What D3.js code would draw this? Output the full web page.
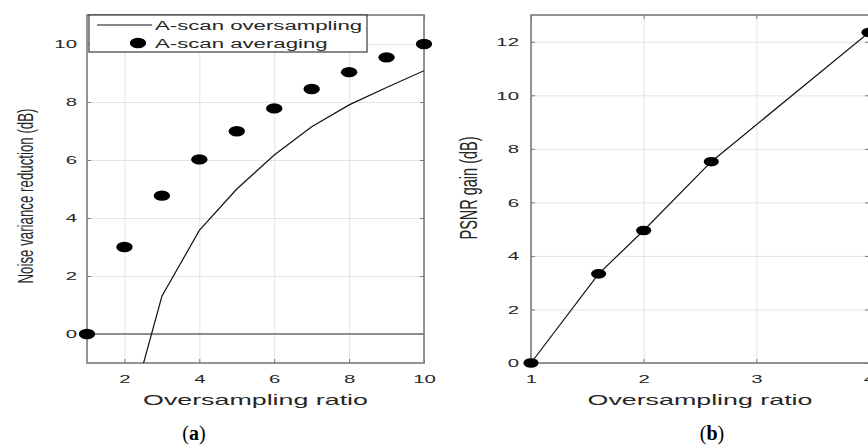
<!DOCTYPE html>
<html>
<head>
<meta charset="utf-8">
<script src="https://cdn.jsdelivr.net/npm/d3@7"></script>
<style>
  html, body { margin: 0; padding: 0; background: #fff; }
  svg { display: block; font-family: "Liberation Sans", Arial, sans-serif; }
</style>
</head>
<body>
<div id="chart"></div>
<script>
// panel (a): noise variance reduction vs oversampling ratio
const ratioA = [1, 2, 3, 4, 5, 6, 7, 8, 9, 10];
const averagingDb = [0, 3.0, 4.77, 6.02, 6.99, 7.78, 8.45, 9.03, 9.54, 10.0];
const oversampleRatio = [2, 3, 4, 5, 6, 7, 8, 9, 10];
const oversampleDb = [-3.4, 1.3, 3.57, 5.0, 6.17, 7.15, 7.9, 8.5, 9.08];
const ticksAx = [2, 4, 6, 8, 10];
const ticksAy = [0, 2, 4, 6, 8, 10];
const legendLabels = ["A-scan oversampling", "A-scan averaging"];

// panel (b): PSNR gain vs oversampling ratio
const ratioB = [1, 1.6, 2, 2.6, 4];
const psnrGain = [0, 3.33, 4.95, 7.52, 12.35];
const ticksBx = [1, 2, 3, 4];
const ticksBy = [0, 2, 4, 6, 8, 10, 12];

const W = 868, H = 446;
const sx = 1.85;   // the figure is stretched sideways
const sxLab = 1.65; // glyph stretch for the rotated labels
const frameCol = "#7a7a7a";
const gridCol = "#e4e4e4";
const textCol = "#262626";

const svg = d3.select("#chart").append("svg")
  .attr("width", W)
  .attr("height", H);

function panel(opts) {
  const { x, y, xTicks, yTicks, id } = opts;
  const [x0, x1] = x.range();
  const [y0, y1] = y.range(); // y0 bottom, y1 top
  const g = svg.append("g");

  svg.append("clipPath").attr("id", "clip-" + id)
    .append("rect")
    .attr("x", x0).attr("y", y1)
    .attr("width", x1 - x0).attr("height", y0 - y1);

  // grid
  g.append("g")
    .attr("transform", `translate(0,${y0})`)
    .call(d3.axisBottom(x).tickValues(xTicks).tickSize(-(y0 - y1)).tickFormat(""))
    .call(a => a.select(".domain").remove())
    .call(a => a.selectAll("line").attr("stroke", gridCol).attr("class", "grid"));
  g.append("g")
    .attr("transform", `translate(${x0},0)`)
    .call(d3.axisLeft(y).tickValues(yTicks).tickSize(-(x1 - x0)).tickFormat(""))
    .call(a => a.select(".domain").remove())
    .call(a => a.selectAll("line").attr("stroke", gridCol).attr("class", "grid"));

  return { g, clip: "url(#clip-" + id + ")" };
}

function frame(p, opts) {
  const { x, y, xTicks, yTicks, xLabel, yLabel, yLabelX, yLabelY, yLabelSize, yPad } = opts;
  const g = p.g;
  const [x0, x1] = x.range();
  const [y0, y1] = y.range();
  const fmt = d3.format("~g");

  // bottom axis with labels
  const bx = g.append("g")
    .attr("transform", `translate(0,${y0})`)
    .call(d3.axisBottom(x).tickValues(xTicks).tickSize(-4).tickSizeOuter(0).tickFormat(fmt));
  bx.selectAll("text")
    .attr("y", 0).attr("dy", null)
    .attr("transform", `translate(0,20) scale(${sx},1)`)
    .attr("font-size", 11).attr("fill", textCol);
  // top axis ticks only
  g.append("g")
    .attr("transform", `translate(0,${y1})`)
    .call(d3.axisTop(x).tickValues(xTicks).tickSize(-4).tickSizeOuter(0).tickFormat(""));
  // left axis with labels
  const ly = g.append("g")
    .attr("transform", `translate(${x0},0)`)
    .call(d3.axisLeft(y).tickValues(yTicks).tickSize(-4).tickSizeOuter(0).tickFormat(fmt));
  ly.selectAll("text")
    .attr("x", 0).attr("dy", "0.36em")
    .attr("transform", `translate(${-yPad},0) scale(${sx},1)`)
    .attr("font-size", 11).attr("fill", textCol);
  // right axis ticks only
  g.append("g")
    .attr("transform", `translate(${x1},0)`)
    .call(d3.axisRight(y).tickValues(yTicks).tickSize(-4).tickSizeOuter(0).tickFormat(""));

  g.selectAll(".domain").remove();
  g.selectAll(".tick line:not(.grid)").attr("stroke", frameCol);

  // box
  g.append("rect")
    .attr("x", x0).attr("y", y1)
    .attr("width", x1 - x0).attr("height", y0 - y1)
    .attr("fill", "none")
    .attr("stroke", frameCol)
    .attr("stroke-width", 1.6);

  // axis labels
  g.append("text")
    .attr("transform", `translate(${(x0 + x1) / 2},${y0 + 42}) scale(${sx},1)`)
    .attr("text-anchor", "middle")
    .attr("font-size", 14.5)
    .attr("fill", textCol)
    .text(xLabel);
  g.append("text")
    .attr("transform", `translate(${yLabelX},${yLabelY}) scale(${sxLab},1) rotate(-90)`)
    .attr("text-anchor", "middle")
    .attr("font-size", yLabelSize)
    .attr("fill", textCol)
    .text(yLabel);
}

// ---------- panel (a)
const xA = d3.scaleLinear().domain([1, 10]).range([87, 424]);
const yA = d3.scaleLinear().domain([-1, 11]).range([363, 15]);
const optsA = {
  x: xA, y: yA, xTicks: ticksAx, yTicks: ticksAy, id: "a", yPad: 10,
  xLabel: "Oversampling ratio", yLabel: "Noise variance reduction (dB)",
  yLabelX: 33, yLabelY: 196, yLabelSize: 13.3
};
const pA = panel(optsA);

// zero reference line
pA.g.append("line")
  .attr("x1", xA(1)).attr("x2", xA(10))
  .attr("y1", yA(0)).attr("y2", yA(0))
  .attr("stroke", "#6e6e6e")
  .attr("stroke-width", 1.3);

frame(pA, optsA);

const lineA = d3.line()
  .x((d, i) => xA(oversampleRatio[i]))
  .y(d => yA(d));
pA.g.append("path")
  .datum(oversampleDb)
  .attr("clip-path", pA.clip)
  .attr("d", lineA)
  .attr("fill", "none")
  .attr("stroke", "#111")
  .attr("stroke-width", 1.2);

pA.g.selectAll("ellipse.avg")
  .data(averagingDb)
  .enter()
  .append("ellipse")
  .attr("class", "avg")
  .attr("cx", (d, i) => xA(ratioA[i]))
  .attr("cy", d => yA(d))
  .attr("rx", 8.2)
  .attr("ry", 5.2)
  .attr("fill", "#000");

// legend
const leg = svg.append("g");
leg.append("rect")
  .attr("x", 89).attr("y", 15)
  .attr("width", 278).attr("height", 37)
  .attr("fill", "#fff")
  .attr("stroke", "#3a3a3a")
  .attr("stroke-width", 1.2);
leg.append("line")
  .attr("x1", 97).attr("x2", 152)
  .attr("y1", 25).attr("y2", 25)
  .attr("stroke", "#111").attr("stroke-width", 1.2);
leg.append("ellipse")
  .attr("cx", 138).attr("cy", 43)
  .attr("rx", 8.2).attr("ry", 5.2)
  .attr("fill", "#000");
leg.selectAll("text")
  .data(legendLabels)
  .enter()
  .append("text")
  .attr("transform", (d, i) => `translate(155,${[30, 48][i]}) scale(${sx},1)`)
  .attr("font-size", 12)
  .attr("fill", textCol)
  .text(d => d);

// ---------- panel (b)
const xB = d3.scaleLinear().domain([1, 4]).range([531, 869]);
const yB = d3.scaleLinear().domain([0, 13]).range([363, 15]);
const optsB = {
  x: xB, y: yB, xTicks: ticksBx, yTicks: ticksBy, id: "b", yPad: 12,
  xLabel: "Oversampling ratio", yLabel: "PSNR gain (dB)",
  yLabelX: 477, yLabelY: 188, yLabelSize: 14.5
};
const pB = panel(optsB);
frame(pB, optsB);

const lineB = d3.line()
  .x((d, i) => xB(ratioB[i]))
  .y(d => yB(d));
pB.g.append("path")
  .datum(psnrGain)
  .attr("d", lineB)
  .attr("fill", "none")
  .attr("stroke", "#111")
  .attr("stroke-width", 1.2);
pB.g.selectAll("ellipse.gain")
  .data(psnrGain)
  .enter()
  .append("ellipse")
  .attr("class", "gain")
  .attr("cx", (d, i) => xB(ratioB[i]))
  .attr("cy", d => yB(d))
  .attr("rx", 7.6)
  .attr("ry", 4.8)
  .attr("fill", "#000");

// captions
const captions = [["a", 194], ["b", 712]];
captions.forEach(([c, cx]) => {
  const t = svg.append("text")
    .attr("x", cx).attr("y", 440)
    .attr("text-anchor", "middle")
    .attr("font-family", "'Liberation Serif', 'DejaVu Serif', serif")
    .attr("font-size", 20)
    .attr("fill", "#000");
  t.append("tspan").text("(");
  t.append("tspan").attr("font-weight", "bold").text(c);
  t.append("tspan").text(")");
});
</script>
</body>
</html>
